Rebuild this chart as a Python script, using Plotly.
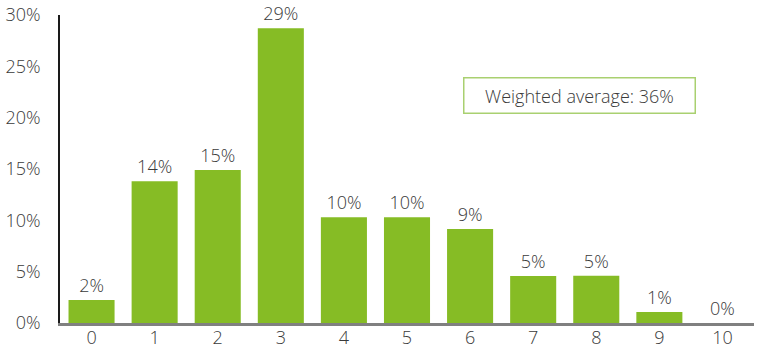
import plotly.graph_objects as go

# Share of respondents by score (0-10), in percent
scores = [0, 1, 2, 3, 4, 5, 6, 7, 8, 9, 10]
shares = [2.24, 13.8, 14.9, 28.7, 10.3, 10.3, 9.15, 4.58, 4.6, 1.07, 0.0]
y_ticks = [0, 5, 10, 15, 20, 25, 30]
y_tick_labels = [f"{t}%" for t in y_ticks]

# Weighted average score expressed as a share of the 10-point scale
weighted_avg = sum(s * p for s, p in zip(scores, shares)) / sum(shares) / 10 * 100

GREEN = "#86bc25"
TEXT = "#3a3a3a"
FONT = "Open Sans"
SIZE = 18

fig = go.Figure(
    go.Bar(
        x=scores,
        y=shares,
        width=0.73,
        marker=dict(color=GREEN, line=dict(width=0)),
        texttemplate="%{y:.0f}%",
        textposition="outside",
        textfont=dict(family=FONT, size=SIZE, color=TEXT, weight=300),
        cliponaxis=False,
    )
)

fig.add_annotation(
    xref="paper", yref="paper",
    x=0.748, y=0.740,
    text=f"Weighted average: {weighted_avg:.0f}%",
    showarrow=False,
    font=dict(family=FONT, size=SIZE, color=TEXT, weight=300),
    width=226, height=30,
    bordercolor="#a9d070", borderwidth=1.5, borderpad=2,
    bgcolor="white",
    xanchor="center", yanchor="middle",
)

fig.update_layout(
    width=766, height=351,
    margin=dict(l=60, r=12, t=15, b=28, autoexpand=False),
    plot_bgcolor="white", paper_bgcolor="white",
    showlegend=False,
    font=dict(family=FONT, size=SIZE, color=TEXT, weight=300),
    xaxis=dict(
        range=[-0.5, 10.5],
        tickmode="array", tickvals=scores, ticktext=[str(s) for s in scores],
        showgrid=False, zeroline=False, automargin=False,
        showline=True, linecolor="#808080", linewidth=2.5,
        ticks="", ticklabelstandoff=-3,
        tickfont=dict(family=FONT, size=SIZE, color=TEXT, weight=300),
    ),
    yaxis=dict(
        range=[0, 30],
        tickmode="array", tickvals=y_ticks, ticktext=y_tick_labels,
        showgrid=False, zeroline=False, automargin=False,
        showline=True, linecolor="#1a1a1a", linewidth=1.5,
        ticks="", ticklabelstandoff=14,
        tickfont=dict(family=FONT, size=SIZE, color=TEXT, weight=300),
    ),
    bargap=0.27,
)

fig.write_html("out.html")
